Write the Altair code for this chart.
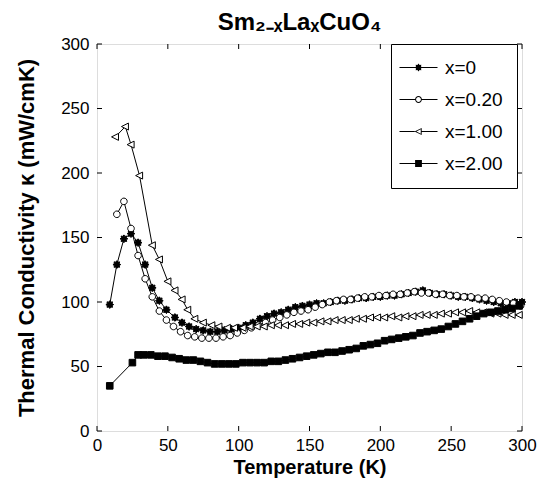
import altair as alt
import pandas as pd

SERIES = ["x=0", "x=0.20", "x=1.00", "x=2.00"]

# x=0 (filled stars)
T0 = [9, 14, 19, 24, 29, 34, 39, 44, 49, 55, 60, 65, 70, 75, 80, 85, 90, 95, 100, 105,
      110, 115, 120, 125, 130, 135, 140, 145, 150, 155, 160, 165, 170, 175, 180, 185, 190, 195, 200, 205,
      210, 215, 220, 225, 230, 235, 240, 245, 250, 255, 260, 265, 270, 275, 280, 285, 290, 295, 300]
K0 = [98, 129, 149, 153, 146, 129, 111, 101, 94, 88, 84, 81, 79, 78, 77, 77, 78, 79, 80, 82,
      84, 87, 89, 91, 92, 94, 96, 97, 98, 99, 99, 100, 101, 101, 102, 103, 103, 104, 104, 105,
      105, 106, 107, 108, 109, 107, 106, 106, 105, 104, 104, 103, 102, 101, 100, 99, 99, 100, 100]

# x=0.20 (open circles)
T1 = [14, 19, 24, 29, 34, 39, 44, 49, 54, 59, 64, 69, 74, 79, 84, 89, 94, 99, 104, 109,
      114, 119, 124, 129, 134, 139, 144, 149, 154, 159, 164, 169, 174, 179, 184, 189, 194, 199, 204, 209,
      214, 219, 224, 229, 234, 239, 244, 249, 254, 259, 264, 269, 274, 279, 284, 289, 294, 299]
K1 = [168, 178, 157, 136, 118, 104, 93, 86, 81, 77, 74, 73, 72, 72, 72, 73, 74, 76, 78, 80,
      82, 84, 86, 88, 90, 92, 93, 94, 96, 98, 100, 101, 102, 102, 103, 104, 104, 105, 105, 106,
      106, 107, 108, 107, 107, 106, 106, 105, 105, 104, 104, 103, 103, 102, 101, 100, 99, 97]

# x=1.00 (open left triangles)
T2 = [13, 20, 24, 30, 39, 44, 50, 55, 60, 64, 69, 75, 81, 86, 92, 97, 103, 108, 113, 118,
      123, 128, 133, 138, 143, 148, 153, 158, 163, 168, 173, 178, 183, 188, 193, 198, 203, 208, 213, 218,
      223, 228, 233, 238, 243, 248, 253, 258, 263, 268, 273, 278, 283, 288, 293, 298]
K2 = [228, 236, 222, 198, 144, 133, 116, 109, 102, 94, 87, 84, 82, 81, 80, 80, 80, 81, 81, 81,
      82, 82, 82, 83, 83, 84, 84, 85, 85, 86, 86, 86, 87, 87, 88, 88, 88, 89, 88, 89,
      89, 90, 90, 90, 91, 91, 92, 92, 93, 92, 92, 91, 91, 90, 90, 90]

# x=2.00 (filled squares)
T3 = [9, 25, 29, 33, 38, 43, 48, 53, 58, 63, 68, 73, 78, 83, 88, 93, 98, 103, 108, 113,
      118, 123, 128, 133, 138, 143, 148, 153, 158, 163, 168, 173, 178, 183, 188, 193, 198, 203, 208, 213,
      218, 223, 228, 233, 238, 243, 248, 253, 258, 263, 268, 273, 278, 283, 288, 293, 298]
K3 = [35, 53, 59, 59, 59, 58, 58, 57, 56, 55, 55, 54, 53, 52, 52, 52, 52, 53, 53, 53,
      53, 54, 54, 55, 56, 57, 58, 59, 60, 61, 61, 62, 63, 64, 66, 67, 68, 70, 71, 72,
      73, 74, 76, 77, 78, 79, 81, 83, 85, 87, 89, 91, 92, 93, 94, 95, 97]

TICKS = [0, 50, 100, 150, 200, 250, 300]

rows = []
for name, ts, ks in zip(SERIES, [T0, T1, T2, T3], [K0, K1, K2, K3]):
    for i, (t, k) in enumerate(zip(ts, ks)):
        rows.append({"series": name, "T": t, "k": k, "order": i})
df = pd.DataFrame(rows)
ticks_y = pd.DataFrame({"k": TICKS})
ticks_x = pd.DataFrame({"T": TICKS})

FONT = "Liberation Sans"

# marker outlines (unit square -1..1)
STAR = ("M0,-1L0.27,-0.62L0.71,-0.71L0.62,-0.27L1,0L0.62,0.27L0.71,0.71L0.27,0.62"
        "L0,1L-0.27,0.62L-0.71,0.71L-0.62,0.27L-1,0L-0.62,-0.27L-0.71,-0.71L-0.27,-0.62Z")
CIRC = "M0.85,0A0.85,0.85 0 1,1 -0.85,0A0.85,0.85 0 1,1 0.85,0Z"
TRI = "M-1,0L0.8,-0.9L0.8,0.9Z"
SQ = "M-0.85,-0.85L0.85,-0.85L0.85,0.85L-0.85,0.85Z"
SHAPES = [STAR, CIRC, TRI, SQ]

# legend glyphs: everything drawn as filled areas (holes for the open markers)
CIRC_RING = CIRC + "M0.6,0A0.6,0.6 0 1,0 -0.6,0A0.6,0.6 0 1,0 0.6,0Z"
TRI_RING = TRI + "M-0.52,0L0.56,0.56L0.56,-0.56Z"
W = 0.13
def seg(a, b):
    return f"M{a},{-W}L{b},{-W}L{b},{W}L{a},{W}Z"
LEG = [
    seg(-4.75, 4.75) + STAR,
    seg(-4.75, -0.8) + seg(0.8, 4.75) + CIRC_RING,
    seg(-4.75, -0.95) + seg(0.8, 4.75) + TRI_RING,
    seg(-4.75, 4.75) + SQ,
]
FILLS = ["black", "white", "white", "black"]

xscale = alt.Scale(domain=[0, 300], nice=False)
yscale = alt.Scale(domain=[0, 300], nice=False)

xaxis = alt.Axis(values=TICKS, ticks=False, domain=False, grid=False, labelFontSize=17,
                 labelFont=FONT, labelColor="black", labelPadding=6, title="Temperature (K)",
                 titleFont=FONT, titleFontSize=20, titleFontWeight="bold", titleColor="black",
                 titlePadding=4, labelFlush=False)
yaxis = alt.Axis(values=TICKS, ticks=False, domain=False, grid=False, labelFontSize=17,
                 labelFont=FONT, labelColor="black", labelPadding=8,
                 title="Thermal Conductivity \u03ba (mW/cmK)",
                 titleFont=FONT, titleFontSize=22, titleFontWeight="bold", titleColor="black",
                 titlePadding=22, labelFlush=False)

X = alt.X("T:Q", scale=xscale, axis=xaxis)
Y = alt.Y("k:Q", scale=yscale, axis=yaxis)

base = alt.Chart(df)

lines = base.mark_line(color="black", strokeWidth=1).encode(
    x=X, y=Y, detail="series:N", order="order:Q",
)

points = base.mark_point(filled=True, stroke="black", strokeWidth=1, size=60, opacity=1).encode(
    x=X, y=Y,
    shape=alt.Shape("series:N", scale=alt.Scale(domain=SERIES, range=SHAPES), legend=None),
    fill=alt.Fill("series:N", scale=alt.Scale(domain=SERIES, range=FILLS), legend=None),
)

legend_layer = base.transform_filter("datum.T < 0").mark_point(
    filled=True, color="black", size=64, opacity=1).encode(
    x=X, y=Y,
    shape=alt.Shape("series:N", scale=alt.Scale(domain=SERIES, range=LEG),
                    legend=alt.Legend(
                        title=None, orient="none", legendX=294, legendY=0, direction="vertical",
                        strokeColor="black", fillColor="white", padding=14,
                        labelFont=FONT, labelFontSize=19, labelColor="black",
                        symbolSize=64, symbolStrokeWidth=0, symbolFillColor="black",
                        symbolOpacity=1, symbolOffset=4, labelOffset=17, rowPadding=12,
                    )),
)

TL = 5
left_t = alt.Chart(ticks_y).mark_rule(color="black", strokeWidth=1).encode(
    y=Y, x=alt.value(0), x2=alt.value(TL))
right_t = alt.Chart(ticks_y).mark_rule(color="black", strokeWidth=1).encode(
    y=Y, x=alt.value(425 - TL), x2=alt.value(425))
bottom_t = alt.Chart(ticks_x).mark_rule(color="black", strokeWidth=1).encode(
    x=X, y=alt.value(387 - TL), y2=alt.value(387))
top_t = alt.Chart(ticks_x).mark_rule(color="black", strokeWidth=1).encode(
    x=X, y=alt.value(0), y2=alt.value(TL))

chart = alt.layer(lines, points, legend_layer, left_t, right_t, bottom_t, top_t).resolve_scale(
    shape="independent"
).properties(
    width=425, height=387,
    autosize=alt.AutoSizeParams(type="none"),
    padding={"left": 89, "top": 36, "right": 25, "bottom": 47},
    title=alt.TitleParams("Sm\u2082\u208b\u2093La\u2093CuO\u2084", font=FONT, fontSize=24,
                          fontWeight="bold", color="black", anchor="middle", offset=0, dx=-10),
).configure_view(stroke="black", strokeWidth=1.2).configure(background="white")

chart.save("out.html", embed_options={"renderer": "svg", "actions": False})
